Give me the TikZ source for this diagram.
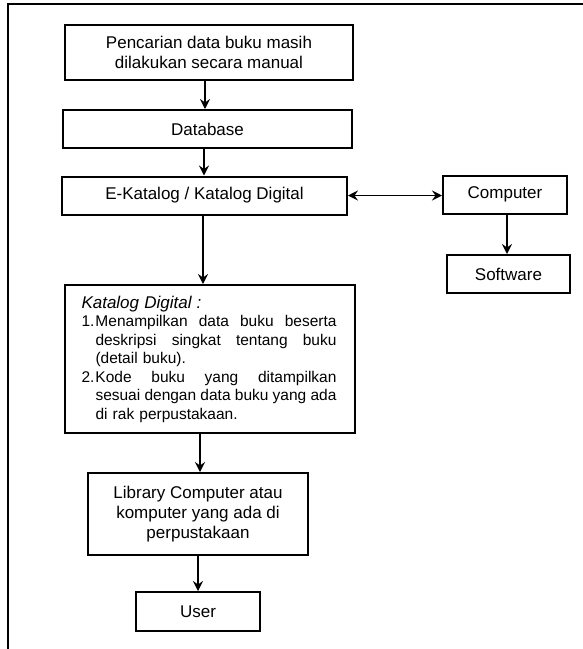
\documentclass[tikz,border=0pt]{standalone}
\usepackage{fontspec}
\setmainfont{Liberation Sans}
\usetikzlibrary{arrows.meta}
\newcommand{\jline}[1]{\makebox[241pt][l]{#1}}
\begin{document}
\begin{tikzpicture}[x=1pt,y=-1pt,
  box/.style={draw=black,line width=2pt,inner sep=0pt,align=center,
    font=\fontsize{17}{20}\selectfont,text=black},
  tip/.tip={Stealth[length=10pt,width=10pt,inset=3.5pt]},
  arr/.style={line width=1.8pt,-tip},
  dbl/.style={line width=1.8pt,tip-tip}]
\useasboundingbox (0,0) rectangle (583,649);
\draw[line width=2pt] (8,649) -- (8,4) -- (583,4);
\node[box,minimum width=288pt,minimum height=55pt] (top) at (209,52.5)
  {Pencarian data buku masih\\dilakukan secara manual};
\node[box,minimum width=289pt,minimum height=38pt] (db) at (207.5,129) {Database};
\node[box,minimum width=285pt,minimum height=38pt] (ek) at (204.5,195.5) {E-Katalog / Katalog Digital};
\node[box,minimum width=124pt,minimum height=38pt] (comp) at (505,194.5) {Computer};
\node[box,minimum width=123pt,minimum height=38pt] (soft) at (508.5,274) {Software};
\node[box,minimum width=290pt,minimum height=148pt,align=left,text width=257pt,
  font=\fontsize{15.5}{18.5}\selectfont] (kat) at (210,359)
  {{\fontsize{17}{18.5}\selectfont\itshape Katalog Digital :}\\
   \makebox[14pt][l]{1.}\jline{Menampilkan\hfill data\hfill buku\hfill beserta}\\
   \hspace*{14pt}\jline{deskripsi\hfill singkat\hfill tentang\hfill buku}\\
   \hspace*{14pt}(detail buku).\\
   \makebox[14pt][l]{2.}\jline{Kode\hfill buku\hfill yang\hfill ditampilkan}\\
   \hspace*{14pt}\jline{sesuai\hfill dengan\hfill data\hfill buku\hfill yang\hfill ada}\\
   \hspace*{14pt}di rak perpustakaan.};
\node[box,minimum width=220pt,minimum height=82pt] (lib) at (198,514)
  {Library Computer atau\\komputer yang ada di\\perpustakaan};
\node[box,minimum width=124pt,minimum height=39pt] (user) at (198,611.5) {User};
\coordinate (x1) at (205,0);
\coordinate (x2) at (204,0);
\coordinate (x3) at (203,0);
\coordinate (x4) at (200,0);
\coordinate (x5) at (507,0);
\draw[arr] (top.south -| x1) -- (db.north -| x1);
\draw[arr] (db.south -| x2) -- (ek.north -| x2);
\draw[arr] (ek.south -| x3) -- (kat.north -| x3);
\draw[arr] (kat.south -| x4) -- (lib.north -| x4);
\draw[arr] (lib.south) -- (user.north);
\draw[arr] (comp.south -| x5) -- (soft.north -| x5);
\draw[dbl] (ek.east) -- (ek.east -| comp.west);
\end{tikzpicture}
\end{document}
